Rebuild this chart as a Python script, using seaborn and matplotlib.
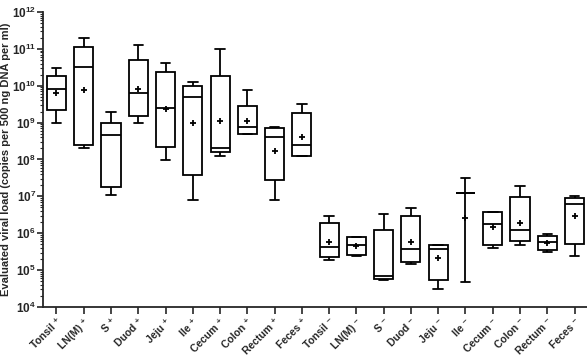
import matplotlib
matplotlib.use("Agg")
import matplotlib.pyplot as plt
from matplotlib.ticker import LogLocator, NullFormatter
import numpy as np
import pandas as pd
import seaborn as sns

# tissue groups, positive (+) then negative (-) animals
tissues = ["Tonsil", "LN(M)", "S", "Duod", "Jeju", "Ile", "Cecum", "Colon", "Rectum", "Feces"]
labels = [t + " \u207a" for t in tissues] + [t + " \u207b" for t in tissues]

# five-number summaries (copies per 500 ng DNA per ml)
v_min = [1.0e9, 2.0e8, 1.1e7, 1.0e9, 9.8e7, 7.8e6, 1.25e8, 4.9e8, 7.8e6, 1.25e8,
         1.9e5, 2.45e5, 5.4e4, 1.5e5, 3.1e4, 4.8e4, 3.9e5, 4.8e5, 3.1e5, 2.45e5]
v_q1 = [2.2e9, 2.5e8, 1.8e7, 1.55e9, 2.2e8, 3.9e7, 1.6e8, 4.9e8, 2.75e7, 1.25e8,
        2.2e5, 2.5e5, 5.8e4, 1.66e5, 5.5e4, 1.23e7, 4.9e5, 6.2e5, 3.5e5, 5.1e5]
v_median = [8.0e9, 3.2e10, 4.7e8, 6.3e9, 2.5e9, 5.0e9, 2.0e8, 7.8e8, 4.1e8, 2.5e8,
            4.3e5, 4.8e5, 6.8e4, 3.8e5, 3.8e5, 1.23e7, 1.8e6, 1.2e6, 5.9e5, 6.2e6]
v_q3 = [1.8e10, 1.1e11, 9.5e8, 5.0e10, 2.3e10, 9.8e9, 1.8e10, 2.75e9, 7.1e8, 1.8e9,
        1.95e6, 7.8e5, 1.26e6, 2.9e6, 4.7e5, 1.23e7, 3.7e6, 9.8e6, 8.3e5, 9.3e6]
v_max = [3.1e10, 2.0e11, 1.9e9, 1.3e11, 4.1e10, 1.25e10, 1.0e11, 7.9e9, 7.8e8, 3.2e9,
         3.0e6, 7.8e5, 3.4e6, 4.8e6, 4.7e5, 3.1e7, 3.7e6, 1.95e7, 9.5e5, 1.0e7]
v_mean = [6.5e9, 7.8e9, np.nan, 8.3e9, 2.3e9, 9.5e8, 1.1e9, 1.1e9, 1.7e8, 4.1e8,
          5.9e5, 4.6e5, np.nan, 5.75e5, 2.1e5, 2.6e6, 1.45e6, 1.95e6, 5.4e5, 3.0e6]

# y tick labels
exponents = [4, 5, 6, 7, 8, 9, 10, 11, 12]

rows = []
for i, lab in enumerate(labels):
    for v in (v_min[i], v_q1[i], v_median[i], v_q3[i], v_max[i]):
        rows.append({"tissue": lab, "load": v})
df = pd.DataFrame(rows)

sns.set_theme(style="ticks")
plt.rcParams["font.family"] = ["Liberation Sans", "DejaVu Sans"]
plt.rcParams["mathtext.fontset"] = "custom"
plt.rcParams["mathtext.bf"] = "Liberation Sans:bold"
plt.rcParams["mathtext.rm"] = "Liberation Sans:bold"

fig = plt.figure(figsize=(5.87, 3.58), dpi=100)
ax = fig.add_axes([0.073, 0.1425, 0.929, 0.824])

sns.boxplot(
    data=df,
    x="tissue",
    y="load",
    order=labels,
    whis=(0, 100),
    log_scale=True,
    color="white",
    linecolor="black",
    linewidth=1.3,
    width=0.7,
    ax=ax,
)
sns.scatterplot(
    x=np.arange(len(labels)),
    y=v_mean,
    marker="+",
    color="black",
    s=22,
    linewidth=1.3,
    zorder=5,
    ax=ax,
)

ax.set_ylim(1e4, 1e12)
ax.set_xlim(-0.5, len(labels) - 0.5)
ax.set_yticks([10.0 ** e for e in exponents])
ax.set_yticklabels([r"$\mathbf{10^{%d}}$" % e for e in exponents], fontsize=8.5)
ax.yaxis.set_minor_locator(LogLocator(base=10, subs=np.arange(2, 10), numticks=100))
ax.yaxis.set_minor_formatter(NullFormatter())

ax.set_xticks(np.arange(len(labels)))
ax.set_xticklabels(labels, rotation=45, ha="right", rotation_mode="anchor",
                   fontsize=7.5, fontweight="bold")
ax.tick_params(axis="x", length=5, width=1.2, pad=2)
ax.tick_params(axis="y", which="major", length=4, width=1.2, pad=1)
ax.tick_params(axis="y", which="minor", length=2, width=0.8)

ax.set_xlabel("")
ax.set_ylabel("Evaluated viral load (copies per 500 ng DNA per ml)",
              fontsize=8, fontweight="bold")
ax.yaxis.set_label_coords(-0.058, 0.5)
for side in ("left", "bottom"):
    ax.spines[side].set_linewidth(1.3)
sns.despine(ax=ax)

fig.savefig("out.png", dpi=100)
